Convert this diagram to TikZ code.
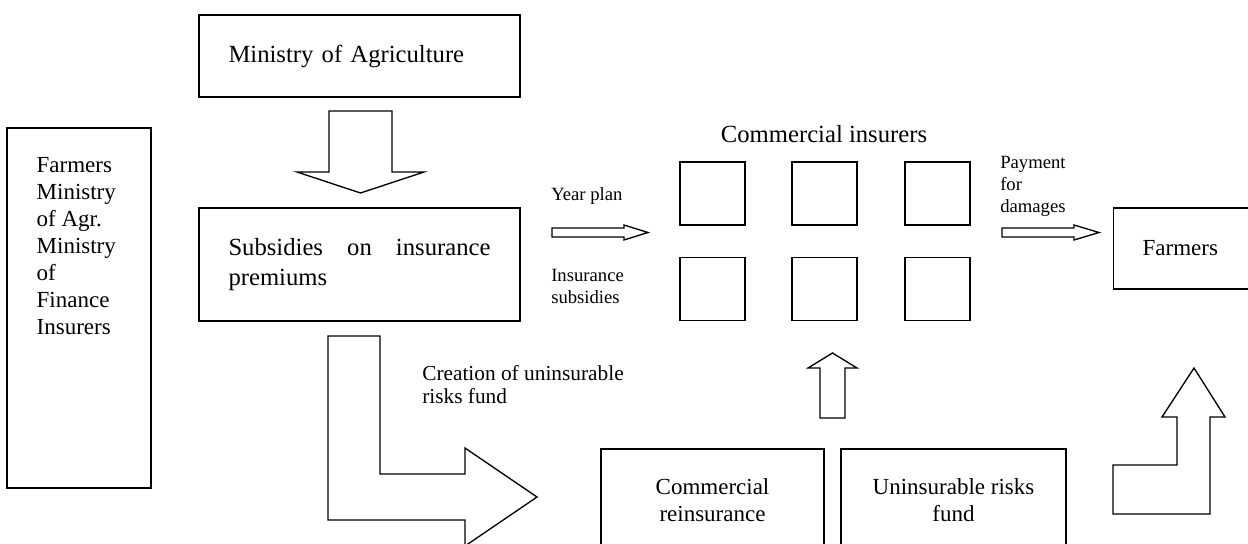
\documentclass[tikz,border=0pt]{standalone}
\usepackage{fontspec}
\setmainfont{Liberation Serif}
\usetikzlibrary{positioning}

\begin{document}
\begin{tikzpicture}[
  x=0.75pt,y=-0.75pt,
  box/.style={draw,line width=1pt,inner sep=0pt,font=\fontsize{17.25}{20.25}\selectfont},
  bigbox/.style={box,font=\fontsize{18.5}{22.5}\selectfont},
  firm/.style={draw,line width=1pt,inner sep=0pt,minimum width=48.75pt,minimum height=47.25pt},
  blockarrow/.style={draw,line width=1pt,fill=white,line join=miter},
  lbl/.style={inner sep=0pt,align=left,font=\fontsize{14}{16.5}\selectfont}
]
\useasboundingbox (0,0) rectangle (1248,543);
% ---------- boxes
\node[bigbox,minimum width=240.75pt,minimum height=61.5pt,text width=196.5pt,align=left] (agri) at (359.5,56) {Ministry of Agriculture};
\node[bigbox,minimum width=240.75pt,minimum height=84.75pt,text width=196.5pt,align=justify] (subs) at (359.5,264.5) {Subsidies on insurance premiums};
\node[box,minimum width=108pt,minimum height=270pt] (actors) at (79,308) {};
\node[box,draw=none,anchor=north west,align=left] (actorstxt) at (36,157) {Farmers\\Ministry\\of Agr.\\Ministry\\of\\Finance\\Insurers};
\node[box,anchor=west,minimum width=112.5pt,minimum height=60.75pt,text width=69pt,align=left] (farmers) at (1113,248.5) {Farmers};
\node[box,minimum width=167.25pt,minimum height=76.5pt,align=center] (reins) at (712.5,500) {Commercial\\reinsurance};
\node[box,minimum width=168.75pt,minimum height=76.5pt,align=center] (fund) at (953.5,500) {Uninsurable risks\\fund};
% ---------- commercial insurers
\node[bigbox,draw=none,anchor=base] (institle) at (824,142) {Commercial insurers};
\node[firm] (ins11) at (712.5,193.5) {}; \node[firm] (ins12) at (824.5,193.5) {}; \node[firm] (ins13) at (937.5,193.5) {};
\node[firm] (ins21) at (712.5,289) {};   \node[firm] (ins22) at (824.5,289) {};   \node[firm] (ins23) at (937.5,289) {};
% ---------- labels
\node[lbl,anchor=base west] (yearlbl) at (551,200) {Year plan};
\node[lbl,anchor=north west] (subslbl) at (551,269) {Insurance\\subsidies};
\node[lbl,anchor=north west] (paylbl) at (1000,156) {Payment\\for\\damages};
\node[lbl,anchor=north west,font=\fontsize{16}{17.25}\selectfont] (fundlbl) at (422,365) {Creation of uninsurable\\risks fund};
% ---------- block arrows
\draw[blockarrow] (329,111) -- (392,111) -- (392,172) -- (424,172) -- (360.5,193) -- (297,172) -- (329,172) -- cycle;
\draw[blockarrow] (328,336) -- (380,336) -- (380,474) -- (465,474) -- (465,448) -- (537,497) -- (465,546) -- (465,520) -- (328,520) -- cycle;
\draw[blockarrow] (552,228) -- (624,228) -- (624,225) -- (648,232.5) -- (624,240) -- (624,237) -- (552,237) -- cycle;
\draw[blockarrow] (1002,228) -- (1074,228) -- (1074,225) -- (1099,232.5) -- (1074,240) -- (1074,237) -- (1002,237) -- cycle;
\draw[blockarrow] (820,418) -- (845,418) -- (845,368) -- (857,368) -- (832.5,353) -- (808,368) -- (820,368) -- cycle;
\draw[blockarrow] (1113,465) -- (1177,465) -- (1177,417) -- (1162,417) -- (1194,368) -- (1225,417) -- (1210,417) -- (1210,514) -- (1113,514) -- cycle;
\end{tikzpicture}
\end{document}
